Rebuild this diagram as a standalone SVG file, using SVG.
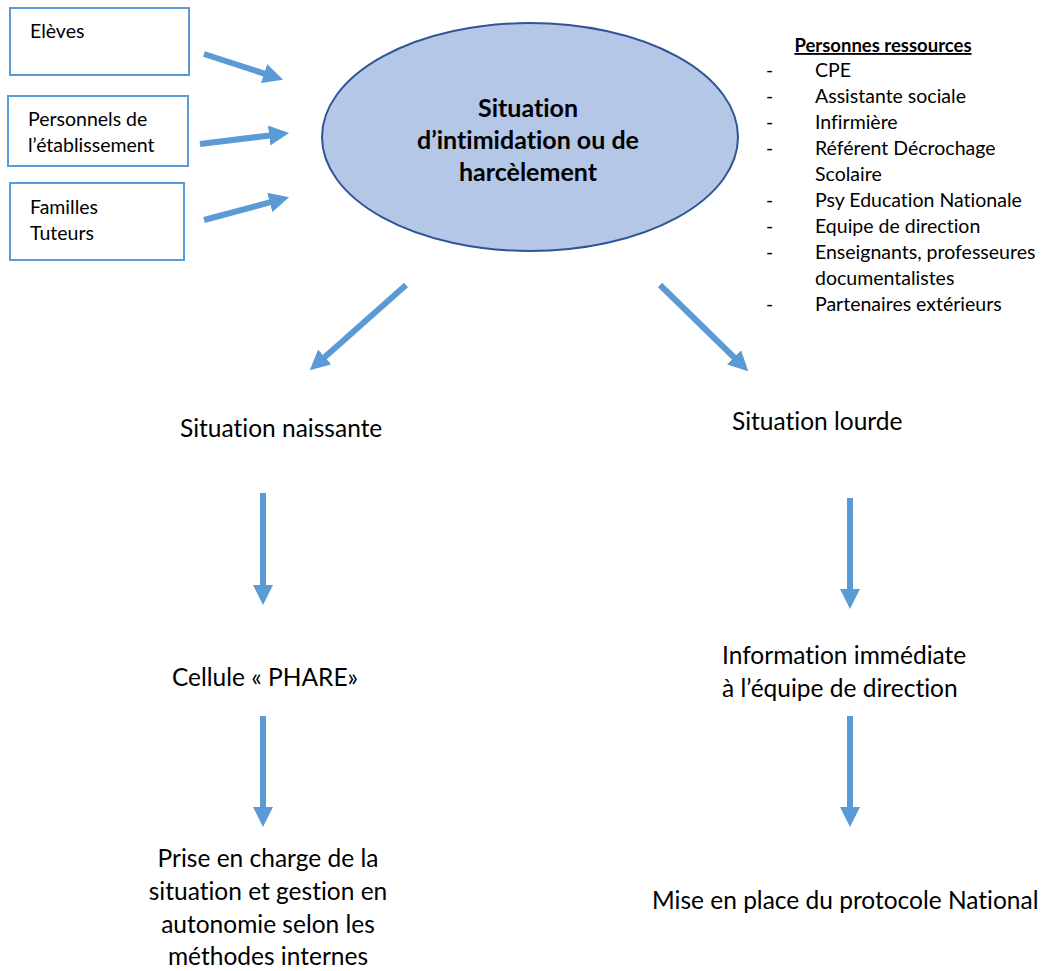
<svg xmlns="http://www.w3.org/2000/svg" width="1046" height="971" viewBox="0 0 1046 971">
<defs>
<style>
.box{fill:#fff;stroke:#5B9BD5;stroke-width:2}
.t{font-family:Lato,"Open Sans","Liberation Sans",sans-serif;fill:#000;font-variant-ligatures:none}
.s{font-size:19.5px}
.m{font-size:24.5px}
.l{font-size:19.5px}
.b{font-weight:bold}
.c{text-anchor:middle}
.arr{stroke:#5B9BD5;stroke-width:6;fill:none;marker-end:url(#ah)}
</style>
<marker id="ah" markerUnits="userSpaceOnUse" markerWidth="20" markerHeight="20" refX="1" refY="10" orient="auto">
<path d="M0,0 L20,10 L0,20 z" fill="#5B9BD5"/>
</marker>
</defs>
<rect width="1046" height="971" fill="#fff"/>
<g id="eleves"><rect class="box" x="10" y="8" width="179" height="67"/><text class="t s" x="30" y="38">Elèves</text></g>
<g id="personnels"><rect class="box" x="8" y="96" width="180" height="70"/><text class="t s" x="28" y="126">Personnels de</text><text class="t s" x="28" y="152">l’établissement</text></g>
<g id="familles"><rect class="box" x="10" y="183" width="174" height="77"/><text class="t s" x="30" y="214">Familles</text><text class="t s" x="30" y="240">Tuteurs</text></g>
<g id="situation"><ellipse cx="530" cy="137" rx="208" ry="114" fill="#B4C7E7" stroke="#2F5597" stroke-width="2"/>
<text class="t b c" font-size="25" x="528" y="117">Situation</text>
<text class="t b c" font-size="25" x="528" y="149">d’intimidation ou de</text>
<text class="t b c" font-size="25" x="528" y="181">harcèlement</text></g>
<g id="ressources" class="t l">
<text x="883" y="52" class="b c" text-decoration="underline" font-size="18.5">Personnes ressources</text>
<g><text x="766" y="77">-</text><text x="815" y="77">CPE</text></g>
<g><text x="766" y="103">-</text><text x="815" y="103">Assistante sociale</text></g>
<g><text x="766" y="129">-</text><text x="815" y="129">Infirmière</text></g>
<g><text x="766" y="155">-</text><text x="815" y="155">Référent Décrochage</text><text x="815" y="181">Scolaire</text></g>
<g><text x="766" y="207">-</text><text x="815" y="207">Psy Education Nationale</text></g>
<g><text x="766" y="233">-</text><text x="815" y="233">Equipe de direction</text></g>
<g><text x="766" y="259">-</text><text x="815" y="259">Enseignants, professeures</text><text x="815" y="285">documentalistes</text></g>
<g><text x="766" y="311">-</text><text x="815" y="311">Partenaires extérieurs</text></g>
</g>
<g id="naissante"><text class="t m" x="180" y="437">Situation naissante</text></g>
<g id="lourde"><text class="t m" x="732" y="430">Situation lourde</text></g>
<g id="phare"><text class="t m" x="172" y="686">Cellule « PHARE»</text></g>
<g id="information"><text class="t m" x="722" y="664">Information immédiate</text><text class="t m" x="722" y="697">à l’équipe de direction</text></g>
<g id="priseencharge" class="t m c">
<text x="268" y="867">Prise en charge de la</text>
<text x="268" y="900">situation et gestion en</text>
<text x="268" y="933">autonomie selon les</text>
<text x="268" y="965">méthodes internes</text>
</g>
<g id="protocole"><text class="t m" x="652" y="909">Mise en place du protocole National</text></g>
<g id="connectors">
<line class="arr" x1="204" y1="54" x2="265" y2="73.8"/>
<line class="arr" x1="200" y1="144" x2="270.2" y2="135.4"/>
<line class="arr" x1="204" y1="220" x2="270.7" y2="202.2"/>
<line class="arr" x1="406" y1="285" x2="324" y2="357.7"/>
<line class="arr" x1="660" y1="285" x2="734.7" y2="358"/>
<line class="arr" x1="263" y1="493" x2="263" y2="586"/>
<line class="arr" x1="263" y1="716" x2="263" y2="808"/>
<line class="arr" x1="850" y1="498" x2="850" y2="590"/>
<line class="arr" x1="850" y1="716" x2="850" y2="808"/>
</g>
</svg>
